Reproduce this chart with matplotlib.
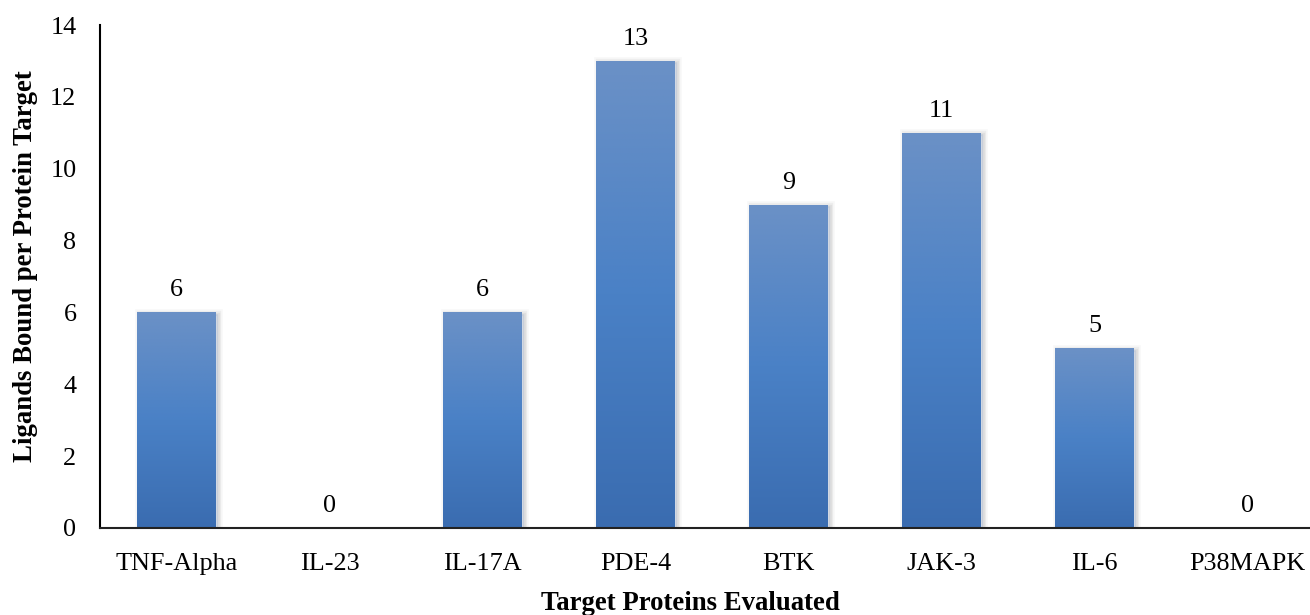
import numpy as np
import matplotlib
matplotlib.use("Agg")
import matplotlib.pyplot as plt
import matplotlib.patheffects as pe
from matplotlib.colors import LinearSegmentedColormap

# Data
categories = ["TNF-Alpha", "IL-23", "IL-17A", "PDE-4", "BTK", "JAK-3", "IL-6", "P38MAPK"]
ligands_bound = [6, 0, 6, 13, 9, 11, 5, 0]
y_ticks = [0, 2, 4, 6, 8, 10, 12, 14]

plt.rcParams["font.family"] = ["Liberation Serif", "DejaVu Serif"]
FS = 18.8
FS_LABEL = 19.3

W, H = 1310, 615
fig = plt.figure(figsize=(W / 100, H / 100), dpi=100)
ax = fig.add_axes([100 / W, (H - 528) / H, 1224 / W, 503 / H])

x = np.arange(len(categories))
bar_w = 0.51

# Soft drop shadow under each bar
shadow = []
for lw, a in [(7, 0.03), (4.5, 0.05), (2.5, 0.07)]:
    shadow.append(pe.Stroke(linewidth=lw, foreground="#303030", alpha=a, offset=(1.5, -1.0)))
shadow.append(pe.Normal())

bars = ax.bar(x, ligands_bound, width=bar_w, color="#4a7ec2", edgecolor="none", zorder=2)

# Vertical gradient fill (light top, saturated middle, darker bottom)
grad_cmap = LinearSegmentedColormap.from_list(
    "bar_grad", [(0.0, "#3a6cb0"), (0.5, "#4a81c6"), (1.0, "#6b91c6")])
grad = np.linspace(0, 1, 256).reshape(-1, 1)
for rect, v in zip(bars, ligands_bound):
    if v <= 0:
        rect.set_visible(False)
        continue
    rect.set_path_effects(shadow)
    x0 = rect.get_x()
    im = ax.imshow(grad, extent=[x0, x0 + rect.get_width(), 0, v], origin="lower",
                   cmap=grad_cmap, aspect="auto", interpolation="bilinear", zorder=3)
    im.set_clip_path(rect)

# Value labels
for xi, v in zip(x, ligands_bound):
    ax.annotate(str(v), (xi, v), xytext=(0, 8), textcoords="offset points",
                ha="center", va="bottom", fontsize=FS, color="black", zorder=4)

ax.set_xlim(-0.5, len(categories) - 0.5)
ax.set_ylim(0, 14)
ax.set_yticks(y_ticks)
ax.set_xticks(x)
ax.set_xticklabels(categories)
ax.tick_params(axis="both", length=0, labelsize=FS, colors="black")
ax.tick_params(axis="y", pad=17)
ax.tick_params(axis="x", pad=18)

for s in ["top", "right"]:
    ax.spines[s].set_visible(False)
ax.spines["left"].set_linewidth(1.5)
ax.spines["left"].set_color("black")
ax.spines["bottom"].set_linewidth(1.5)
ax.spines["bottom"].set_color("#222222")
ax.spines["bottom"].set_zorder(5)

fig.text(690 / W, 1 - 604 / H, "Target Proteins Evaluated", ha="center", va="center",
         fontsize=FS_LABEL, fontweight="bold")
fig.text(26 / W, 1 - 266 / H, "Ligands Bound per Protein Target", ha="center", va="center",
         rotation=90, fontsize=FS_LABEL, fontweight="bold")

fig.savefig("out.png", dpi=100)
